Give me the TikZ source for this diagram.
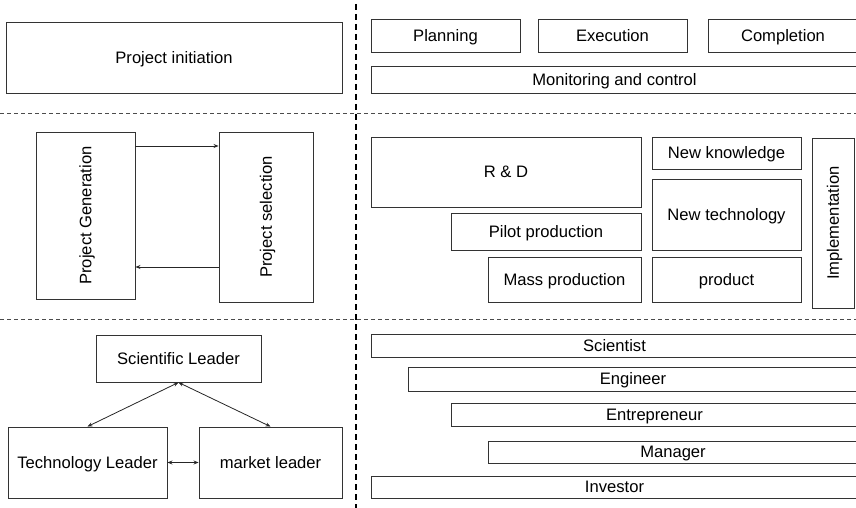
\documentclass[tikz,border=0pt]{standalone}
\usepackage{fontspec}
\setmainfont{Liberation Sans}
\usetikzlibrary{arrows.meta}
\begin{document}
\begin{tikzpicture}[x=1pt,y=-1pt,
  blk/.style={draw=black!80, line width=0.9pt, rectangle, inner sep=0pt,
    text height=11.9pt, text depth=0pt,
    font=\fontsize{16.6}{19}\selectfont},
  sep/.style={draw=black!70, line width=0.8pt, dash pattern=on 4pt off 3pt},
  vsep/.style={draw=black, line width=1.6pt, dash pattern=on 6pt off 4pt},
  link/.style={draw=black!85, line width=0.8pt, -{Stealth[length=5pt,width=4pt]}},
  dlink/.style={draw=black!85, line width=0.8pt, {Stealth[length=5pt,width=4pt]}-{Stealth[length=5pt,width=4pt]}}]
\useasboundingbox (0,0) rectangle (856,508);
\clip (0,0) rectangle (856,508);

% section separators
\draw[sep] (0,113) -- (856,113);
\draw[sep] (0,319) -- (856,319);
\draw[vsep] (356,4) -- (356,508);

% row 1: life cycle
\node[blk, minimum width=336pt, minimum height=71pt] (init) at (174,57.5) {Project initiation};
\node[blk, minimum width=149pt, minimum height=33pt] (plan) at (445.5,35.5) {Planning};
\node[blk, minimum width=149pt, minimum height=33pt] (exec) at (612.5,35.5) {Execution};
\node[blk, minimum width=150pt, minimum height=33pt] (comp) at (783,35.5) {Completion};
\node[blk, minimum width=487pt, minimum height=27pt] (mon) at (614.5,79.5) {Monitoring and control};

% row 2: generation / selection and outcomes
\node[blk, minimum width=167pt, minimum height=99pt, rotate=90] (gen) at (85.5,215.5) {Project Generation};
\node[blk, minimum width=170pt, minimum height=94pt, rotate=90] (sel) at (266,217) {Project selection};
\coordinate (ytop) at (0,146);
\coordinate (ybot) at (0,267);
\draw[link] (gen.south |- ytop) -- (sel.north |- ytop);
\draw[link] (sel.north |- ybot) -- (gen.south |- ybot);

\node[blk, minimum width=270pt, minimum height=70pt] (rd) at (506,172) {R \& D};
\node[blk, minimum width=149pt, minimum height=32pt] (know) at (726.5,153) {New knowledge};
\node[blk, minimum width=149pt, minimum height=71pt] (tech) at (726.5,214.5) {New technology};
\node[blk, minimum width=190pt, minimum height=37pt] (pilot) at (546,231.5) {Pilot production};
\node[blk, minimum width=153pt, minimum height=45pt] (mass) at (564.5,279.5) {Mass production};
\node[blk, minimum width=149pt, minimum height=45pt] (prod) at (726.5,279.5) {product};
\node[blk, minimum width=170pt, minimum height=42pt, rotate=90] (impl) at (833,223) {Implementation};

% row 3: leaders and roles
\node[blk, minimum width=165pt, minimum height=47pt] (sci) at (178.5,358.5) {Scientific Leader};
\node[blk, minimum width=159pt, minimum height=71pt] (techl) at (87.5,462.5) {Technology Leader};
\node[blk, minimum width=143pt, minimum height=71pt] (mkt) at (270.5,462.5) {market leader};
\draw[dlink] (sci.south) -- (techl.north);
\draw[dlink] (sci.south) -- (mkt.north);
\draw[dlink] (techl.east) -- (mkt.west);

\node[blk, minimum width=487pt, minimum height=23pt] (scientist) at (614.5,345.5) {Scientist};
\node[blk, minimum width=450pt, minimum height=24pt] (eng) at (633,379) {Engineer};
\node[blk, minimum width=407pt, minimum height=23pt] (entr) at (654.5,414.5) {Entrepreneur};
\node[blk, minimum width=370pt, minimum height=22pt] (mgr) at (673,452) {Manager};
\node[blk, minimum width=487pt, minimum height=22pt] (inv) at (614.5,487) {Investor};
\end{tikzpicture}
\end{document}
